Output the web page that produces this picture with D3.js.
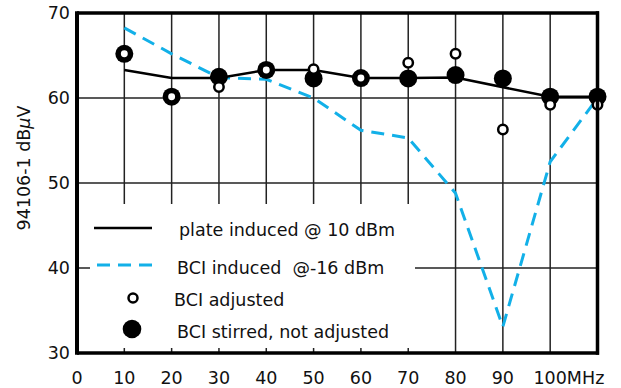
<!DOCTYPE html>
<html><head><meta charset="utf-8">
<script src="https://cdn.jsdelivr.net/npm/d3@7/dist/d3.min.js"></script>
<style>html,body{margin:0;padding:0;background:#fff;}svg{display:block;}</style>
</head><body>
<svg id="c" width="621" height="388"></svg>
<script>
// Data
const xTicks = [0, 10, 20, 30, 40, 50, 60, 70, 80, 90, 100];
const xTickLabels = ["0", "10", "20", "30", "40", "50", "60", "70", "80", "90", "100MHz"];
const yTicks = [30, 40, 50, 60, 70];
const plateFreq = [10, 20, 30, 40, 50, 60, 70, 80, 100, 110];
const plateVal  = [63.3, 62.35, 62.35, 63.3, 63.3, 62.35, 62.35, 62.4, 60.15, 60.15];
const bciFreq = [10, 20, 30, 40, 50, 60, 70, 80, 90, 100, 110];
const bciVal  = [68.25, 65.2, 62.4, 62.2, 60.0, 56.2, 55.3, 48.8, 33.1, 52.5, 60.0];
const adjFreq = [10, 20, 30, 40, 50, 60, 70, 80, 90, 100, 110];
const adjVal  = [65.2, 60.15, 61.3, 63.3, 63.4, 62.35, 64.15, 65.2, 56.3, 59.2, 59.2];
const stirFreq = [10, 20, 30, 40, 50, 60, 70, 80, 90, 100, 110];
const stirVal  = [65.2, 60.15, 62.5, 63.3, 62.3, 62.35, 62.3, 62.7, 62.3, 60.15, 60.15];
const legendLabels = ["plate induced @ 10 dBm", "BCI induced  @-16 dBm", "BCI adjusted", "BCI stirred, not adjusted"];

const svg = d3.select("#c");
const L = 77, R = 597.5, T = 13, B = 353;
const x = d3.scaleLinear().domain([0, 110]).range([L, R]);
const y = d3.scaleLinear().domain([30, 70]).range([B, T]);
const font = "'DejaVu Sans', Verdana, sans-serif";
const blue = "#12b0e8";

// grid
const g = svg.append("g");
g.selectAll("line.v").data(xTicks.filter(d => d > 0)).enter().append("line")
  .attr("x1", d => x(d)).attr("x2", d => x(d)).attr("y1", T).attr("y2", B)
  .attr("stroke", "#222").attr("stroke-width", 1.5);
g.selectAll("line.h").data(yTicks.filter(d => d > 30 && d < 70)).enter().append("line")
  .attr("x1", L).attr("x2", R).attr("y1", d => y(d)).attr("y2", d => y(d))
  .attr("stroke", "#222").attr("stroke-width", 1.5);

// legend background
svg.append("rect").attr("x", 90).attr("y", 204).attr("width", 325).attr("height", 144).attr("fill", "#fff");

// data lines
const plate = plateFreq.map((f, i) => [f, plateVal[i]]);
const bci = bciFreq.map((f, i) => [f, bciVal[i]]);
const line = d3.line().x(d => x(d[0])).y(d => y(d[1]));
svg.append("path").attr("d", line(bci)).attr("fill", "none").attr("stroke", blue)
  .attr("stroke-width", 3).attr("stroke-dasharray", "13,8");
svg.append("path").attr("d", line(plate)).attr("fill", "none").attr("stroke", "#000")
  .attr("stroke-width", 2.5);

// markers
svg.selectAll("circle.stir").data(stirFreq.map((f, i) => [f, stirVal[i]])).enter().append("circle")
  .attr("cx", d => x(d[0])).attr("cy", d => y(d[1])).attr("r", 9).attr("fill", "#000");
svg.selectAll("circle.adj").data(adjFreq.map((f, i) => [f, adjVal[i]])).enter().append("circle")
  .attr("cx", d => x(d[0])).attr("cy", d => y(d[1])).attr("r", 4.7)
  .attr("fill", "#fff").attr("stroke", "#000").attr("stroke-width", 2.5);

// frame
svg.append("line").attr("x1", L).attr("x2", R + 1.5).attr("y1", T).attr("y2", T).attr("stroke", "#000").attr("stroke-width", 3.5);
svg.append("line").attr("x1", L).attr("x2", R + 1.5).attr("y1", B).attr("y2", B).attr("stroke", "#000").attr("stroke-width", 3.5);
svg.append("line").attr("x1", L).attr("x2", L).attr("y1", T - 1.75).attr("y2", B + 1.75).attr("stroke", "#000").attr("stroke-width", 4);
svg.append("line").attr("x1", R).attr("x2", R).attr("y1", T - 1.75).attr("y2", B + 1.75).attr("stroke", "#000").attr("stroke-width", 3.5);

// tick labels
svg.selectAll("text.yt").data(yTicks).enter().append("text")
  .attr("x", 70).attr("y", d => y(d)).attr("dy", "0.36em").attr("text-anchor", "end")
  .attr("font-family", font).attr("font-size", 17.5).attr("fill", "#111").text(d => d);
svg.selectAll("text.xt").data(xTicks).enter().append("text")
  .attr("x", d => x(d)).attr("y", 384).attr("text-anchor", "middle")
  .attr("font-family", font).attr("font-size", 17.5).attr("fill", "#111")
  .text((d, i) => xTickLabels[i])
  .each(function(d, i) {
    const lab = xTickLabels[i];
    const num = String(d);
    if (lab !== num) {
      const el = d3.select(this);
      el.text(num);
      const w = this.getComputedTextLength();
      el.attr("text-anchor", "start").attr("x", x(d) - w / 2).text(lab);
    }
  });

// y label
const yl = svg.append("text").attr("transform", "translate(30,168) rotate(-90)")
  .attr("text-anchor", "middle").attr("font-family", font).attr("font-size", 17.5).attr("fill", "#111");
yl.append("tspan").text("94106-1 dB");
yl.append("tspan").attr("font-style", "italic").text("μ");
yl.append("tspan").text("V");

// legend
const lg = svg.append("g");
lg.append("line").attr("x1", 94).attr("x2", 152).attr("y1", 228).attr("y2", 228).attr("stroke", "#000").attr("stroke-width", 2.5);
lg.append("line").attr("x1", 97).attr("x2", 153).attr("y1", 265).attr("y2", 265).attr("stroke", blue)
  .attr("stroke-width", 3).attr("stroke-dasharray", "13,8");
lg.append("circle").attr("cx", 133).attr("cy", 298).attr("r", 4.5).attr("fill", "#fff").attr("stroke", "#000").attr("stroke-width", 2.5);
lg.append("circle").attr("cx", 132).attr("cy", 329).attr("r", 9.3).attr("fill", "#000");
const lx = [179, 177, 174, 177], ly = [236, 274, 306, 338];
legendLabels.forEach((t, i) => {
  lg.append("text").attr("x", lx[i]).attr("y", ly[i]).attr("font-family", font)
    .attr("font-size", 17.5).attr("fill", "#111").attr("xml:space", "preserve").style("white-space", "pre").text(t);
});
</script>
</body></html>
